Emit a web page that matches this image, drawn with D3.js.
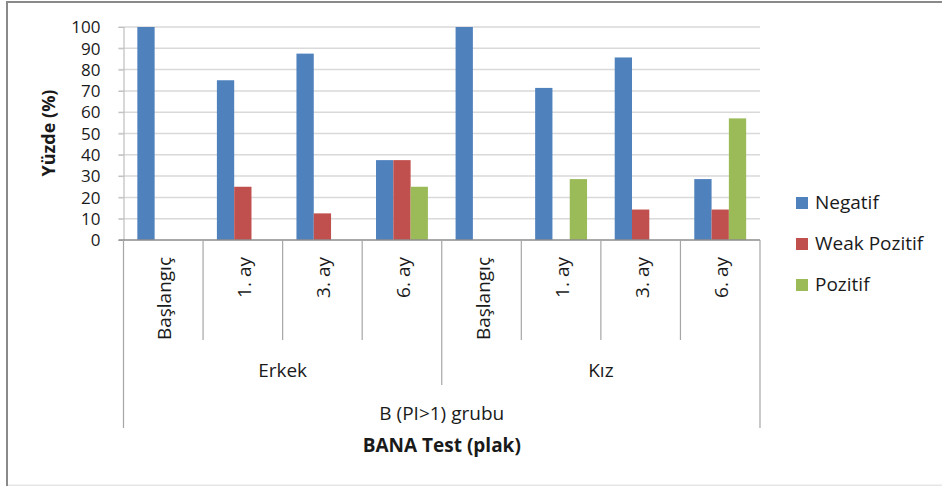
<!DOCTYPE html>
<html><head><meta charset="utf-8">
<script src="https://cdn.jsdelivr.net/npm/d3@7"></script>
<style>body{margin:0;background:#fff}svg{display:block}text{font-family:"Open Sans",Lato,sans-serif;fill:#1a1a1a}</style>
</head><body><svg id="c" width="942" height="486"></svg>
<script>
const groups = ["Erkek", "Kız"];
const periods = ["Başlangıç", "1. ay", "3. ay", "6. ay"];
const seriesNames = ["Negatif", "Weak Pozitif", "Pozitif"];
const negatif = [100, 75, 87.5, 37.5, 100, 71.4, 85.7, 28.6];
const weakPozitif = [0, 25, 12.5, 37.5, 0, 0, 14.3, 14.3];
const pozitif = [0, 0, 0, 25, 0, 28.6, 0, 57.1];
const yTicks = [0, 10, 20, 30, 40, 50, 60, 70, 80, 90, 100];
const colors = ["#4F81BD", "#C0504D", "#9BBB59"];
const seriesValues = [negatif, weakPozitif, pozitif];

const svg = d3.select("#c");
// frame
svg.append("rect").attr("x",6).attr("y",1).attr("width",936).attr("height",2).attr("fill","#8a8a8a");
svg.append("rect").attr("x",6).attr("y",1).attr("width",2).attr("height",485).attr("fill","#8a8a8a");
svg.append("rect").attr("x",8).attr("y",484.5).attr("width",934).attr("height",1.5).attr("fill","#e6e6e6");

const cats = [];
groups.forEach(g => periods.forEach(p => cats.push(g + "|" + p)));

const pLeft = 123.5, pRight = 760, pTop = 27, pBottom = 240;
const x0 = d3.scaleBand().domain(cats).range([pLeft, pRight]).paddingInner(0).paddingOuter(0);
const x1 = d3.scaleBand().domain(seriesNames).range([0, x0.bandwidth()]).paddingInner(0).paddingOuter(0.8);
const y = d3.scaleLinear().domain([0, 100]).range([pBottom, pTop]);

// gridlines
svg.append("g").selectAll("line").data(yTicks.filter(t => t > 0)).join("line")
  .attr("x1", pLeft - 5).attr("x2", pRight).attr("y1", d => y(d)).attr("y2", d => y(d))
  .attr("stroke", "#d9d9d9").attr("stroke-width", 1.5);

// y axis
const ya = d3.axisLeft(y).tickValues(yTicks).tickSize(5).tickPadding(18).tickFormat(d3.format("d"));
const yg = svg.append("g").attr("transform", `translate(${pLeft},0)`).call(ya);
yg.select(".domain").attr("stroke", "#bfbfbf").attr("stroke-width", 1.2);
yg.selectAll(".tick line").attr("stroke", "#bfbfbf");
yg.selectAll(".tick text").attr("font-size", 17).attr("font-family", "Open Sans").attr("fill", "#1a1a1a").attr("dy", "0.34em");

// bars
const bars = [];
cats.forEach((c, i) => seriesNames.forEach((s, j) => bars.push({c, s, v: seriesValues[j][i], col: colors[j]})));
svg.append("g").selectAll("rect").data(bars.filter(b => b.v > 0)).join("rect")
  .attr("x", d => x0(d.c) + x1(d.s)).attr("width", x1.bandwidth())
  .attr("y", d => y(d.v)).attr("height", d => y(0) - y(d.v))
  .attr("fill", d => d.col);

// x axis line
svg.append("line").attr("x1", pLeft - 5).attr("x2", pRight).attr("y1", pBottom).attr("y2", pBottom)
  .attr("stroke", "#8c8c8c").attr("stroke-width", 1.3);

// category dividers
const divs = svg.append("g").attr("stroke", "#a6a6a6").attr("stroke-width", 1.2);
cats.forEach((c, i) => {
  const xx = x0(c);
  let yEnd = 340;
  if (i === 0) yEnd = 428;
  else if (i === 4) yEnd = 385;
  divs.append("line").attr("x1", xx).attr("x2", xx).attr("y1", pBottom).attr("y2", yEnd);
});
divs.append("line").attr("x1", pRight).attr("x2", pRight).attr("y1", pBottom).attr("y2", 428);

// category labels
svg.append("g").selectAll("text").data(cats).join("text")
  .attr("transform", d => `translate(${x0(d) + x0.bandwidth() / 2 + 1},257) rotate(-90)`)
  .attr("text-anchor", "end").attr("dominant-baseline", "central")
  .attr("font-size", 19).text(d => d.split("|")[1]);

// group labels
groups.forEach((g, gi) => {
  const a = x0(g + "|" + periods[0]), b = x0(g + "|" + periods[3]) + x0.bandwidth();
  svg.append("text").attr("x", (a + b) / 2).attr("y", 377).attr("text-anchor", "middle").attr("font-size", 19).text(g);
});
svg.append("text").attr("x", (pLeft + pRight) / 2).attr("y", 420).attr("text-anchor", "middle").attr("font-size", 19).text("B (PI>1) grubu");
svg.append("text").attr("x", (pLeft + pRight) / 2).attr("y", 452).attr("text-anchor", "middle").attr("font-size", 19).attr("font-weight", "bold").text("BANA Test (plak)");

// y title
svg.append("text").attr("transform", "translate(55,133) rotate(-90)").attr("text-anchor", "middle")
  .attr("font-size", 18).attr("font-weight", "bold").text("Yüzde (%)");

// legend
const lg = svg.append("g");
seriesNames.forEach((s, j) => {
  const cy = 203 + j * 41;
  lg.append("rect").attr("x", 796).attr("y", cy - 6).attr("width", 12).attr("height", 12).attr("fill", colors[j]);
  lg.append("text").attr("x", 815).attr("y", cy).attr("dy", "0.34em").attr("font-size", 19).text(s);
});
</script></body></html>
